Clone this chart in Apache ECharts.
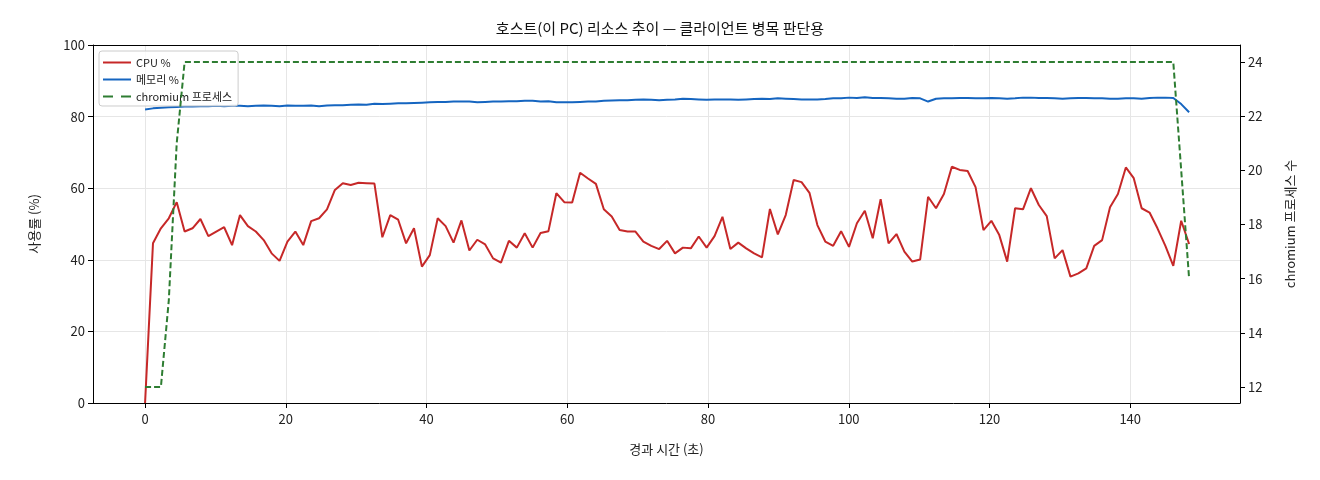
<!DOCTYPE html>
<html><head><meta charset="utf-8">
<script src="https://cdn.jsdelivr.net/npm/echarts@6/dist/echarts.min.js"></script>
<style>html,body{margin:0;padding:0;background:#fff}#c{width:1320px;height:480px}</style>
</head><body><div id="c"></div>
<script>
const sampleStep = 1.124; // seconds between samples
const cpu = [0,44.6,48.8,51.6,56.1,47.9,48.8,51.4,46.6,47.9,
49.1,44.1,52.5,49.4,47.9,45.5,41.8,39.7,45.1,47.9,
44.1,50.8,51.6,54.1,59.5,61.4,60.9,61.5,61.4,61.3,
46.3,52.5,51.2,44.6,48.8,38.1,41.3,51.6,49.4,44.8,
51.0,42.6,45.6,44.3,40.4,39.2,45.3,43.4,47.4,43.4,
47.5,48.0,58.6,56.1,56.0,64.3,62.7,61.2,54.1,52.1,
48.3,47.9,47.9,45.1,43.9,43.0,45.3,41.8,43.4,43.2,
46.5,43.4,46.6,52.0,43.0,44.8,43.2,41.8,40.7,54.2,
47.1,52.5,62.3,61.7,58.7,49.7,45.1,43.9,48.0,43.6,
50.2,53.7,46.0,56.9,44.6,47.2,42.3,39.5,40.1,57.6,
54.4,58.4,66.0,65.1,64.8,60.3,48.3,50.9,46.9,39.5,
54.4,54.1,60.0,55.3,52.2,40.4,42.7,35.3,36.2,37.6,
43.9,45.5,54.7,58.4,65.8,62.8,54.4,53.2,48.8,43.9,
38.3,50.9,44.4];
const mem = [82.0,82.3,82.5,82.6,82.7,82.8,82.8,82.9,82.9,83.0,82.9,
83.0,83.0,82.9,83.0,83.1,83.0,82.9,83.1,83.0,83.0,
83.1,82.9,83.1,83.2,83.2,83.3,83.4,83.3,83.6,83.5,
83.6,83.7,83.7,83.8,83.9,84.0,84.1,84.1,84.2,84.2,
84.2,84.0,84.1,84.2,84.2,84.3,84.3,84.4,84.4,84.2,
84.3,84.0,84.0,84.0,84.1,84.2,84.2,84.4,84.5,84.6,
84.6,84.7,84.8,84.7,84.6,84.7,84.8,85.0,84.9,84.8,
84.7,84.8,84.8,84.8,84.7,84.8,84.9,85.0,84.9,85.1,
85.0,84.9,84.8,84.8,84.8,84.9,85.1,85.1,85.3,85.2,
85.4,85.2,85.2,85.1,85.0,85.0,85.2,85.1,84.2,85.0,
85.1,85.1,85.2,85.2,85.1,85.1,85.2,85.1,85.0,85.1,
85.3,85.3,85.2,85.2,85.1,85.0,85.1,85.2,85.2,85.1,
85.1,85.0,85.0,85.1,85.1,85.0,85.2,85.3,85.3,85.2,
83.5,81.2];
const proc = [12,12,12,15.2,21,
24,24,24,24,24,24,24,24,24,24,24,24,24,24,24,24,24,24,24,24,24,24,24,24,24,
24,24,24,24,24,24,24,24,24,24,24,24,24,24,24,24,24,24,24,24,24,24,24,24,24,
24,24,24,24,24,24,24,24,24,24,24,24,24,24,24,24,24,24,24,24,24,24,24,24,24,
24,24,24,24,24,24,24,24,24,24,24,24,24,24,24,24,24,24,24,24,24,24,24,24,24,
24,24,24,24,24,24,24,24,24,24,24,24,24,24,24,24,24,24,24,24,24,24,24,24,24,
24,
20,16];
const xTicks = [0,20,40,60,80,100,120,140];
const yRightTicks = [12,14,16,18,20,22,24];

const pair = arr => arr.map((v,i)=>[+(i*sampleStep).toFixed(3), v]);
const F = '"Noto Sans CJK KR","Noto Sans",sans-serif';
const chart = echarts.init(document.getElementById('c'));
const lbl = {color:'#222', fontSize:13, fontFamily:F};
chart.setOption({
  animation:false,
  textStyle:{fontFamily:F},
  title:{text:'호스트(이 PC) 리소스 추이 — 클라이언트 병목 판단용', left:'center', top:16,
    textStyle:{fontSize:15, fontWeight:'normal', color:'#111', fontFamily:F}},
  grid:{left:93, right:80, top:45, bottom:77},
  legend:{left:99, top:51, orient:'vertical', itemGap:6, itemWidth:28, itemHeight:8,
    padding:[6,6,4,4], borderColor:'#ccc', borderWidth:1, borderRadius:3,
    backgroundColor:'rgba(255,255,255,0.8)',
    textStyle:{fontSize:11, color:'#222', fontFamily:F},
    data:[{name:'CPU %',icon:'path://M0,0H28V2H0Z'},{name:'메모리 %',icon:'path://M0,0H28V2H0Z'},
      {name:'chromium 프로세스',icon:'path://M0,0H10V2H0ZM18,0H28V2H18Z'}]},
  xAxis:{type:'value', min:-7.4, max:155.6, name:'경과 시간 (초)', nameLocation:'middle', nameGap:40,
    nameTextStyle:{fontSize:13,color:'#222',fontFamily:F},
    axisLine:{onZero:false,lineStyle:{color:'#000'}},
    axisTick:{show:true, customValues:xTicks, length:5, lineStyle:{color:'#000'}},
    axisLabel:Object.assign({customValues:xTicks, margin:10}, lbl),
    splitLine:{show:true, lineStyle:{color:'#e6e6e6'}}},
  yAxis:[
    {type:'value', min:0, max:100, interval:20, name:'사용률 (%)', nameLocation:'middle', nameGap:52,
      nameTextStyle:{fontSize:13,color:'#222',fontFamily:F},
      axisLine:{show:true,onZero:false,lineStyle:{color:'#000'}}, axisTick:{show:true,length:5,lineStyle:{color:'#000'}},
      axisLabel:lbl, splitLine:{show:true,lineStyle:{color:'#e6e6e6'}}},
    {type:'value', min:11.41, max:24.63, name:'chromium 프로세스 수', nameLocation:'middle', nameGap:44,
      nameTextStyle:{fontSize:13,color:'#222',fontFamily:F},
      axisLine:{show:true,onZero:false,lineStyle:{color:'#000'}},
      axisTick:{show:true,customValues:yRightTicks,length:5,lineStyle:{color:'#000'}},
      axisLabel:Object.assign({customValues:yRightTicks},lbl), splitLine:{show:false}}
  ],
  series:[
    {name:'CPU %', type:'line', data:pair(cpu), symbol:'none', lineStyle:{color:'#c62828',width:2}, itemStyle:{color:'#c62828'}, z:3},
    {name:'메모리 %', type:'line', data:pair(mem), symbol:'none', lineStyle:{color:'#1565c0',width:2}, itemStyle:{color:'#1565c0'}, z:3},
    {name:'chromium 프로세스', type:'line', yAxisIndex:1, data:pair(proc), symbol:'none',
      lineStyle:{color:'#2e7d32',width:2,type:[6,3]}, itemStyle:{color:'#2e7d32'}, z:4},
    {type:'line', data:[], markLine:{silent:true, symbol:'none', label:{show:false},
      lineStyle:{color:'#000',width:1,type:'solid'}, data:[[{coord:[-7.4,100]},{coord:[155.6,100]}]]}}
  ]
});
</script></body></html>
